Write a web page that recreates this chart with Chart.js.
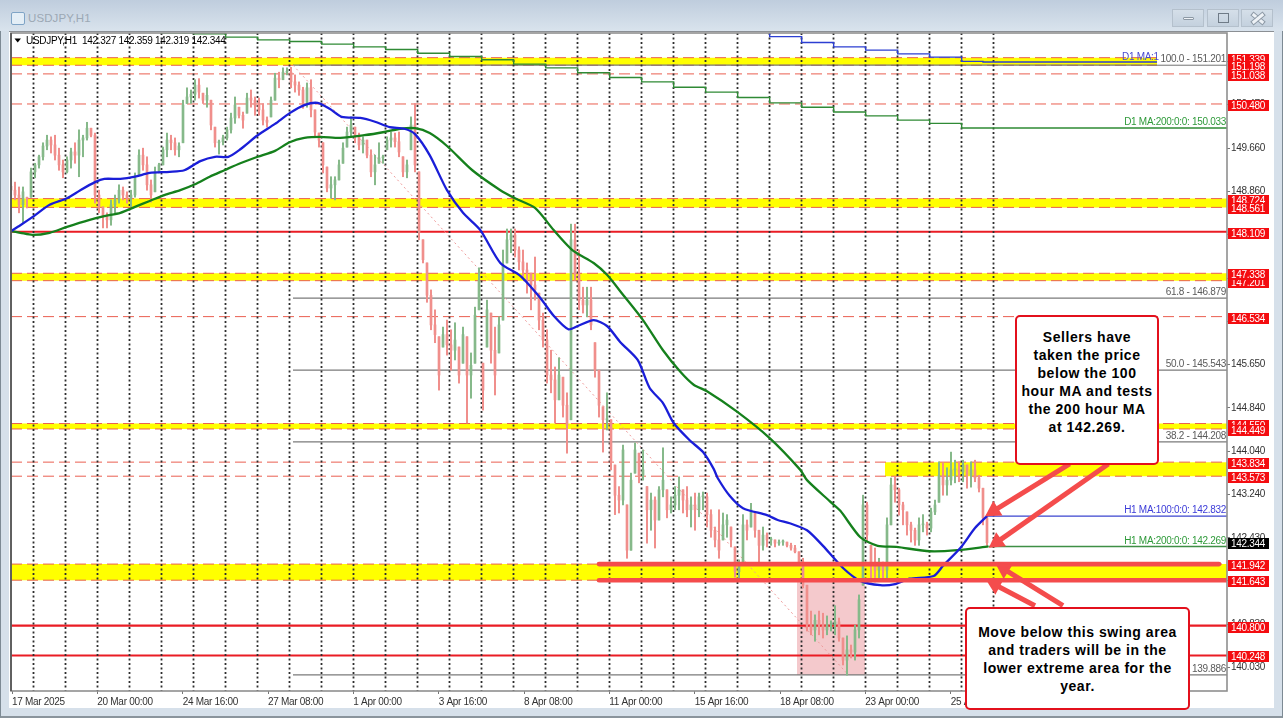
<!DOCTYPE html>
<html><head><meta charset="utf-8"><title>USDJPY,H1</title>
<script src="https://cdn.jsdelivr.net/npm/chart.js@4"></script>
<style>
html,body{margin:0;padding:0;width:1283px;height:718px;overflow:hidden;background:#d6e0ea;}
#frame{position:absolute;left:0;top:0;width:1283px;height:718px;box-sizing:border-box;border:1px solid #7d8a94;border-bottom:2px solid #8a949c;}
#bar{position:absolute;left:0;top:0;width:1283px;height:31px;background:linear-gradient(#bfcddd,#d9e3ed);}
#panel{position:absolute;left:9px;top:31px;width:1265px;height:677px;background:#fff;border-top:1px solid #8b8f94;box-sizing:border-box;}
#title{position:absolute;left:28px;top:12px;font:11.5px "Liberation Sans",sans-serif;color:#9ca8b4;letter-spacing:.1px;}
#ico{position:absolute;left:11px;top:12px;width:12px;height:11px;border:1px solid #7fa4c6;border-radius:2px;background:#e4eef6;}
.btn{position:absolute;top:9px;width:32px;height:18px;border:1px solid #b4c0cc;background:linear-gradient(#d5dfe9,#c4d1de);box-sizing:border-box;}
.btn i{position:absolute;display:block;}
canvas{position:absolute;left:0;top:0;}
.call{position:absolute;box-sizing:border-box;background:#fff;border:2px solid #e3101c;border-radius:5px;text-align:center;font:bold 14px/18px "Liberation Sans",sans-serif;color:#000;letter-spacing:.55px;}
</style></head><body>
<div id="frame"></div><div id="bar"></div><div id="panel"></div>
<div id="ico"></div><div id="title">USDJPY,H1</div>
<div class="btn" style="left:1172px"><i style="left:10px;top:7px;width:11px;height:3px;background:#eef2f6;border:1px solid #8d99a5;box-sizing:border-box;border-radius:1px"></i></div>
<div class="btn" style="left:1207px"><i style="left:10px;top:3px;width:11px;height:10px;border:1px solid #6f7b87;box-sizing:border-box"></i></div>
<div class="btn" style="left:1241px"><i style="left:9px;top:7px;width:14px;height:3px;background:#eef2f6;outline:1px solid #8d99a5;transform:rotate(40deg)"></i><i style="left:9px;top:7px;width:14px;height:3px;background:#eef2f6;outline:1px solid #8d99a5;transform:rotate(-40deg)"></i></div>
<canvas id="c" width="1283" height="718"></canvas>
<div class="call" style="left:1015px;top:315px;width:144px;height:150px;padding-top:11px">Sellers have<br>taken the price<br>below the 100<br>hour MA and tests<br>the 200 hour MA<br>at 142.269.</div>
<div class="call" style="left:965px;top:607px;width:225px;height:103px;padding-top:14px">Move below this swing area<br>and traders will be in the<br>lower extreme area for the<br>year.</div>
<script>
// Candles, one every 3 hours on the hour axis
const highs=[149.11,149.03,148.94,148.94,148.75,149.29,149.38,149.53,149.76,149.90,149.87,149.90,149.66,149.44,149.50,149.66,149.76,150.00,149.90,150.14,150.03,149.94,148.88,148.57,148.46,148.70,148.79,148.98,148.94,148.85,148.88,149.20,149.63,149.66,149.50,149.07,149.31,149.38,149.68,149.94,149.90,149.85,149.76,150.55,150.78,150.74,150.93,150.95,150.68,150.78,150.55,150.05,149.81,149.90,150.05,150.31,150.61,150.42,150.33,150.68,150.74,150.61,150.59,150.49,150.24,150.61,151.05,151.07,151.15,151.15,151.16,151.02,150.89,150.79,150.87,150.93,150.37,149.94,149.76,149.31,149.13,149.13,149.44,149.76,150.05,150.24,150.05,149.94,149.87,149.81,149.63,149.53,149.76,149.53,149.87,149.96,149.94,149.96,149.50,149.44,150.24,150.49,149.22,147.96,147.53,147.03,146.66,146.16,146.34,146.47,146.29,146.42,145.97,146.34,146.16,145.86,146.71,147.44,145.67,146.84,146.60,146.34,146.53,147.77,148.16,148.16,148.16,147.83,147.77,147.53,147.34,147.64,146.97,146.60,146.29,145.91,145.60,145.77,145.41,145.12,148.25,148.25,147.77,147.08,147.08,147.08,146.05,145.54,144.86,145.12,144.62,143.78,143.38,144.15,143.04,143.63,144.19,144.00,144.06,143.38,143.26,143.19,143.38,144.10,143.32,143.19,143.38,143.56,143.32,143.38,143.19,143.26,143.26,143.28,143.26,142.95,142.63,142.95,142.89,142.86,142.63,142.26,142.02,142.86,142.76,143.07,142.89,142.57,142.63,142.52,142.44,142.39,142.39,142.39,142.35,142.33,142.29,142.17,142.05,141.55,141.07,141.00,141.07,141.03,140.98,140.89,141.17,140.94,140.57,140.61,140.44,140.81,141.37,143.22,143.09,142.29,142.24,142.05,141.98,142.80,143.54,143.56,143.35,143.09,142.91,142.72,142.61,142.80,142.86,142.72,142.98,143.13,143.84,143.82,143.73,144.02,143.87,143.84,143.87,143.78,143.84,143.87,143.59,143.35,142.86];
const lows=[148.75,148.70,148.46,148.27,148.55,148.75,149.11,149.29,149.44,149.63,149.57,149.44,149.25,149.11,149.20,149.29,149.38,149.13,149.50,149.81,149.87,148.64,148.46,148.18,148.18,148.23,148.46,148.64,148.70,148.64,148.57,148.75,149.16,149.25,148.88,148.66,148.85,149.20,149.35,149.50,149.63,149.53,149.50,149.76,150.49,150.49,150.55,150.59,150.49,150.42,150.00,149.68,149.55,149.72,149.81,149.94,150.12,150.22,150.03,150.31,150.42,150.27,150.27,150.09,150.05,150.24,150.55,150.78,150.93,151.02,150.78,150.70,150.64,150.40,150.42,150.24,149.87,149.68,149.20,148.85,148.73,148.70,149.07,149.38,149.68,149.87,149.76,149.63,149.57,149.48,149.13,148.98,149.38,149.38,149.63,149.68,149.68,149.50,149.13,149.11,149.63,149.22,147.96,147.53,146.80,146.29,146.05,145.17,145.97,145.82,145.54,145.73,145.30,145.67,144.56,145.02,145.67,146.66,144.80,145.97,145.67,145.08,145.86,146.47,147.53,147.72,147.64,147.40,147.27,146.97,146.66,146.84,146.29,145.97,145.30,145.12,144.56,144.99,144.67,144.00,144.62,147.21,146.66,146.60,146.53,146.29,145.41,144.67,144.02,144.43,143.69,142.86,142.89,143.04,142.05,142.20,143.63,143.45,143.50,142.33,142.57,142.24,142.76,143.19,142.80,142.89,142.95,142.95,142.89,142.82,142.63,142.57,142.82,142.95,142.63,142.44,142.26,142.05,142.39,142.44,142.26,141.70,141.68,141.96,142.39,142.63,142.44,141.98,142.20,142.26,142.29,142.26,142.29,142.29,142.26,142.20,142.15,141.96,141.50,140.70,140.63,140.51,140.63,140.57,140.63,140.70,140.63,140.51,140.07,139.88,140.20,140.16,140.57,141.55,142.35,141.61,141.61,141.68,141.68,141.68,142.67,143.09,142.85,142.67,142.48,142.35,142.29,142.29,142.54,142.48,142.54,142.86,143.09,143.22,143.22,143.41,143.45,143.47,143.47,143.35,143.37,143.47,143.28,142.67,142.29];
const closes=[148.88,148.79,148.61,148.85,148.73,149.22,149.35,149.50,149.70,149.81,149.72,149.53,149.35,149.22,149.44,149.59,149.53,149.81,149.85,150.03,149.90,148.79,148.57,148.40,148.33,148.61,148.70,148.88,148.79,148.73,148.79,149.11,149.53,149.35,148.98,148.79,149.22,149.35,149.63,149.81,149.76,149.63,149.70,150.46,150.61,150.66,150.83,150.70,150.55,150.64,150.09,149.76,149.78,149.85,150.00,150.22,150.46,150.27,150.18,150.59,150.55,150.46,150.37,150.18,150.14,150.55,150.96,150.93,151.07,151.07,150.89,150.83,150.74,150.51,150.78,150.37,149.96,149.81,149.35,148.92,148.98,149.07,149.35,149.66,149.96,150.09,149.90,149.72,149.81,149.53,149.22,149.35,149.48,149.50,149.81,149.85,149.78,149.59,149.22,149.35,150.09,149.35,148.10,147.59,146.93,146.38,146.20,145.45,146.20,146.01,145.91,146.10,145.45,146.20,145.45,145.63,146.56,147.21,145.17,146.66,145.91,145.45,146.38,147.49,147.96,148.05,147.77,147.55,147.40,147.36,147.12,147.03,146.47,146.10,145.45,145.36,144.99,145.45,144.89,144.52,147.96,147.31,146.84,146.75,146.84,146.38,145.54,144.89,144.62,144.62,143.84,143.22,143.13,144.06,142.20,143.50,144.06,143.59,143.69,142.95,143.13,142.76,143.32,143.50,142.95,143.04,143.22,143.32,143.13,142.95,143.04,142.95,143.19,143.19,142.86,142.57,142.39,142.20,142.67,142.76,142.39,141.80,141.92,142.67,142.57,142.95,142.57,142.29,142.48,142.39,142.39,142.33,142.35,142.37,142.29,142.24,142.17,141.98,141.55,140.81,140.72,140.90,140.81,140.72,140.81,140.81,140.87,140.57,140.16,140.35,140.31,140.72,141.28,143.04,142.48,141.92,141.83,141.92,141.83,142.67,143.41,143.32,143.04,142.95,142.67,142.57,142.39,142.67,142.67,142.61,142.91,143.04,143.59,143.41,143.50,143.69,143.69,143.65,143.78,143.59,143.69,143.54,143.35,142.80,142.34];
const firstOpen=148.95;

// Hourly moving averages: hour on the axis, then price
const ma100Hours=[0,7,16,29,42,52,63,70,82,93,104,119,130,142,153,163,172,185,198,209,220,230,239,248,262,273,284,295,303,314,327,339,352,367,382,397,407,418,425,437,447,457,470,479,489,497,509,519,527,530,539,549,567,575,584,597,609,624,637,652,663,674,692,699,712,723,732];
const ma100=[148.12,148.23,148.38,148.61,148.73,148.88,149.03,149.09,149.09,149.13,149.20,149.22,149.25,149.42,149.50,149.50,149.64,149.90,150.11,150.31,150.46,150.50,150.39,150.24,150.22,150.15,150.05,150.02,149.92,149.53,148.88,148.46,148.14,147.53,147.29,146.88,146.55,146.30,146.36,146.47,146.36,146.06,145.73,145.21,144.93,144.56,144.24,144.02,143.71,143.54,143.21,142.98,142.85,142.76,142.70,142.57,142.28,141.87,141.63,141.55,141.57,141.67,141.72,141.91,142.24,142.61,142.832];
const ma200Hours=[0,7,16,29,42,59,70,82,93,104,115,127,138,149,160,172,185,198,209,220,232,247,265,280,292,303,314,327,346,367,378,393,407,421,437,447,459,474,489,502,512,522,544,569,592,597,614,622,637,650,664,689,710,733];
const ma200=[148.12,148.09,148.05,148.09,148.20,148.33,148.40,148.46,148.57,148.68,148.79,148.88,148.99,149.13,149.25,149.38,149.50,149.61,149.77,149.85,149.87,149.85,149.90,149.96,150.02,150.03,149.94,149.70,149.25,148.88,148.73,148.55,148.14,147.77,147.53,147.31,146.94,146.47,145.91,145.51,145.27,145.15,144.78,144.28,143.69,143.50,143.11,142.93,142.44,142.28,142.26,142.18,142.20,142.269];
// Daily moving averages (stepped)
const d1ma200Hours=[112,137,161,185,209,233,257,281,305,329,353,377,401,425,449,473,497,521,545,569,593,617,641,665,689,713,912];
const d1ma200=[151.80,151.78,151.72,151.67,151.64,151.59,151.54,151.49,151.42,151.36,151.30,151.22,151.15,151.06,150.97,150.89,150.79,150.70,150.60,150.50,150.42,150.33,150.26,150.18,150.12,150.033,150.033];
const d1ma100Hours=[568,569,593,617,641,665,689,713,729,859.5];
const d1ma100=[151.85,151.73,151.62,151.54,151.48,151.41,151.35,151.27,151.26,151.26];

// Horizontal levels
const dashedLevels=[151.339,151.198,151.038,150.480,148.724,148.561,147.338,147.201,146.534,144.550,144.449,143.834,143.573];
const dashedEnds=[859.5,859.5,912,912,912,912,912,912,912,912,912,912,912];
const solidLevels=[148.109,140.800,140.248];
const swingDashed=[141.942,141.643];
const swingLines=[141.942,141.643];
const swingStart=441, swingEnds=[906,912];
const bandTops=[151.339,148.724,147.338,144.550,143.834,141.942];
const bandBottoms=[151.198,148.561,147.201,144.449,143.573,141.643];
const bandStarts=[0,0,0,0,655.5,0];
const bandEnds=[859.5,912,912,912,912,912];
const rectHours=[589.5,640.5], rectTop=141.63, rectBottom=139.886;
// Fibonacci retracement
const fibLevels=[151.201,146.879,145.543,144.208,139.886];
const fibNames=["100.0","61.8","50.0","38.2","0.0"];
const fibStart=211.5, fibEnd=628;
// Arrows: tail hour, tail price, head hour, head price, heading in degrees
const arrowTailHours=[794,823,789,768];
const arrowTailPrices=[143.80,143.80,141.17,141.17];
const arrowHeadHours=[737,739.5,744.75,738];
const arrowHeadPrices=[142.93,142.35,141.85,141.56];
const arrowHeadings=[238,235,302,298];
// Axes
const xTickHours=[0.75,64.75,128.75,192.75,256.75,320.75,384.75,448.75,512.75,576.75,640.75,704.75];
const xTickLabels=["17 Mar 2025","20 Mar 00:00","24 Mar 16:00","27 Mar 08:00","1 Apr 00:00","3 Apr 16:00","8 Apr 08:00","11 Apr 00:00","15 Apr 16:00","18 Apr 08:00","23 Apr 00:00","25 Apr 16:00"];
const gridHours=[16.875,40.875,64.875,88.875,112.875,136.875,160.875,184.875,208.875,232.875,256.875,280.875,304.875,328.875,352.875,376.875,400.875,424.875,448.875,472.875,496.875,520.875,544.875,568.875,592.875,616.875,640.875,664.875,688.875,712.875,736.875];
const yTicks=[140.030,140.830,141.630,142.430,143.240,144.040,144.840,145.650,146.450,147.250,148.050,148.860,149.660,150.470,151.270];
const yMin=139.587, yMax=151.797;
const redTags=[151.339,151.198,151.038,150.480,148.724,148.561,148.109,147.201,147.338,146.534,144.550,144.449,143.834,143.573,141.942,141.643,140.800,140.248];
const lastPrice=142.344;

const FONT='"Liberation Sans",sans-serif';
const RED='#f08f8c',GREEN='#86b98a',ARROW='#f44c4c';
const pts=(xs,ys)=>xs.map((x,i)=>({x,y:ys[i]}));
const hline=(v,a,b,extra,order)=>Object.assign({type:'line',data:[{x:a,y:v},{x:b,y:v}],pointRadius:0,borderWidth:1,order,tension:0,fill:false},extra);
const opens=closes.map((c,i)=>{const o=i?closes[i-1]:firstOpen;return Math.min(highs[i],Math.max(lows[i],o));});
const colors=closes.map((c,i)=>c>=opens[i]?GREEN:RED);
const ds=[];
bandTops.forEach((t,i)=>ds.push(hline(t,bandStarts[i],bandEnds[i],{borderWidth:0,fill:{target:{value:bandBottoms[i]},above:'#ffff00',below:'#ffff00'}},9)));
ds.push(hline(rectTop,rectHours[0],rectHours[1],{borderWidth:0,fill:{target:{value:rectBottom},above:'#f4c9cc',below:'#f4c9cc'}},8));
dashedLevels.forEach((v,i)=>ds.push(hline(v,0,dashedEnds[i],{borderColor:'#ea5f50',borderDash:[11,5]},7)));
swingDashed.forEach(v=>ds.push(hline(v,0,912,{borderColor:'#ea5f50',borderDash:[11,5]},7)));
solidLevels.forEach((v,i)=>ds.push(hline(v,0,912,{borderColor:'#ea1c24',borderWidth:i==1?2.4:2},7)));
fibLevels.forEach(v=>ds.push(hline(v,fibStart,912,{borderColor:'#7a7a7a',borderWidth:1.2},6.5)));
ds.push({type:'line',data:[{x:fibStart,y:fibLevels[0]},{x:fibEnd,y:fibLevels[4]}],borderColor:'#ee9a9a',borderWidth:1,borderDash:[2,3],pointRadius:0,order:6});
const hrs=closes.map((c,i)=>i*3);
ds.push({type:'bar',data:hrs.map((x,i)=>({x,y:[lows[i],highs[i]]})),backgroundColor:colors,barThickness:1.4,grouped:false,order:5,borderWidth:0});
ds.push({type:'bar',data:hrs.map((x,i)=>({x,y:[Math.min(opens[i],closes[i]),Math.max(opens[i],closes[i])]})),backgroundColor:colors,barThickness:2,grouped:false,minBarLength:1,order:4,borderWidth:0});
ds.push({type:'line',data:pts(d1ma200Hours,d1ma200),borderColor:'#2f8a35',borderWidth:1.4,stepped:true,pointRadius:0,order:3});
ds.push({type:'line',data:pts(d1ma100Hours,d1ma100),borderColor:'#2c3fd2',borderWidth:1.4,stepped:true,pointRadius:0,order:3});
ds.push({type:'line',data:pts(ma200Hours,ma200),borderColor:'#15801c',borderWidth:2.3,pointRadius:0,tension:.25,order:3});
ds.push(hline(ma200[ma200.length-1],ma200Hours[ma200Hours.length-1],912,{borderColor:'#3f8f45',borderWidth:1.4},3));
ds.push({type:'line',data:pts(ma100Hours,ma100),borderColor:'#1a1ed8',borderWidth:2.3,pointRadius:0,tension:.25,order:2.5});
ds.push(hline(ma100[ma100.length-1],ma100Hours[ma100Hours.length-1],912,{borderColor:'#3b45cf',borderWidth:1.4},2.5));
swingLines.forEach((v,i)=>ds.push(hline(v,swingStart,swingEnds[i],{borderColor:ARROW,borderWidth:4.6,borderCapStyle:'round'},2)));
arrowTailHours.forEach((h,i)=>ds.push({type:'line',data:[{x:h,y:arrowTailPrices[i]},{x:arrowHeadHours[i],y:arrowHeadPrices[i]}],borderColor:ARROW,borderWidth:5,pointStyle:'triangle',pointRadius:[0,10],pointRotation:arrowHeadings[i],pointBackgroundColor:ARROW,pointBorderColor:ARROW,pointBorderWidth:0,order:1}));

const overlay={id:'overlay',
 beforeDraw(ch){ch.ctx.letterSpacing='-0.3px';},
 beforeDatasetDraw(ch,args){
  if(args.meta.type!=='bar'||args.meta.order!==5)return;
  const c=ch.ctx,a=ch.chartArea,x=ch.scales.x;
  c.save();c.strokeStyle='#2e2e2e';c.lineWidth=1.8;c.setLineDash([2,2.5]);
  gridHours.forEach(h=>{const p=x.getPixelForValue(h);c.beginPath();c.moveTo(p,a.top);c.lineTo(p,a.bottom);c.stroke();});
  c.restore();
 },
 afterDatasetsDraw(ch){
  const c=ch.ctx,a=ch.chartArea,y=ch.scales.y;
  c.save();
  c.textBaseline='middle';c.font='10px '+FONT;
  const rt=a.right-1;
  c.fillStyle='#fff';c.fillRect(1157,52,69,12.4);
  c.textAlign='left';c.fillStyle='#4a4ad0';c.fillText('D1 MA:1',1122,y.getPixelForValue(151.201)-8);
  c.textAlign='right';
  fibLevels.forEach((v,i)=>{c.fillStyle='#5a5a5a';c.fillText(fibNames[i]+' - '+v.toFixed(3),rt,y.getPixelForValue(v)-6);});
  c.fillStyle='#2f9a3a';
  c.fillText('D1 MA:200:0:0: 150.033',rt,y.getPixelForValue(150.033)-5.5);
  c.fillText('H1 MA:200:0:0: 142.269',rt,y.getPixelForValue(142.269)-5.5);
  c.fillStyle='#3c3cd8';
  c.fillText('H1 MA:100:0:0: 142.832',rt,y.getPixelForValue(142.832)-5.5);
  c.textAlign='left';c.fillStyle='#000';
  c.beginPath();c.moveTo(14.5,38.5);c.lineTo(21,38.5);c.lineTo(17.7,42.5);c.closePath();c.fill();
  c.fillText('USDJPY,H1  142.327 142.359 142.319 142.344',26,41);
  c.strokeStyle='#8f8f8f';c.lineWidth=1.6;
  c.strokeRect(a.left,a.top,a.right-a.left,a.bottom-a.top);
  c.strokeStyle='#505050';c.beginPath();c.moveTo(a.left,a.top);c.lineTo(a.left,a.bottom);c.stroke();
  c.restore();
 },
 afterDraw(ch){
  const c=ch.ctx,y=ch.scales.y;
  c.save();c.textBaseline='middle';c.textAlign='left';c.font='10px '+FONT;
  const tag=(v,bg)=>{const py=Math.round(y.getPixelForValue(v))+1.5;
    c.fillStyle=bg;c.fillRect(1228,py-5.5,41,11);
    c.fillStyle='#fff';c.fillText(v.toFixed(3),1231,py+.5);};
  redTags.forEach(v=>tag(v,'#f40c10'));
  tag(lastPrice,'#000');
  c.restore();
 }
};

new Chart(document.getElementById('c'),{
 type:'bar',
 data:{datasets:ds},
 plugins:[overlay],
 options:{
  responsive:false,animation:false,devicePixelRatio:1,
  layout:{padding:{left:11,top:33,right:0,bottom:0}},
  plugins:{legend:{display:false},tooltip:{enabled:false}},
  events:[],
  scales:{
   x:{type:'linear',position:'bottom',min:0,max:912,offset:false,
    grid:{offset:false,drawOnChartArea:false,drawTicks:true,tickLength:3,color:'#777'},
    border:{display:false},
    ticks:{autoSkip:false,maxRotation:0,minRotation:0,align:'start',padding:2,color:'#333',font:{family:FONT,size:10},callback:(v,i)=>xTickLabels[i]},
    afterBuildTicks(s){s.ticks=xTickHours.map(value=>({value}));},
    afterFit(s){s.height=27;}},
   y:{type:'linear',position:'right',min:yMin,max:yMax,beginAtZero:false,
    grid:{drawOnChartArea:false,tickLength:3,color:'#777'},
    border:{display:false},
    ticks:{autoSkip:false,padding:1,color:'#333',font:{family:FONT,size:10},callback:v=>Number(v).toFixed(3)},
    afterBuildTicks(s){s.ticks=yTicks.map(value=>({value}));},
    afterFit(s){s.width=56;}}
  }
 }
});
</script>
</body></html>
